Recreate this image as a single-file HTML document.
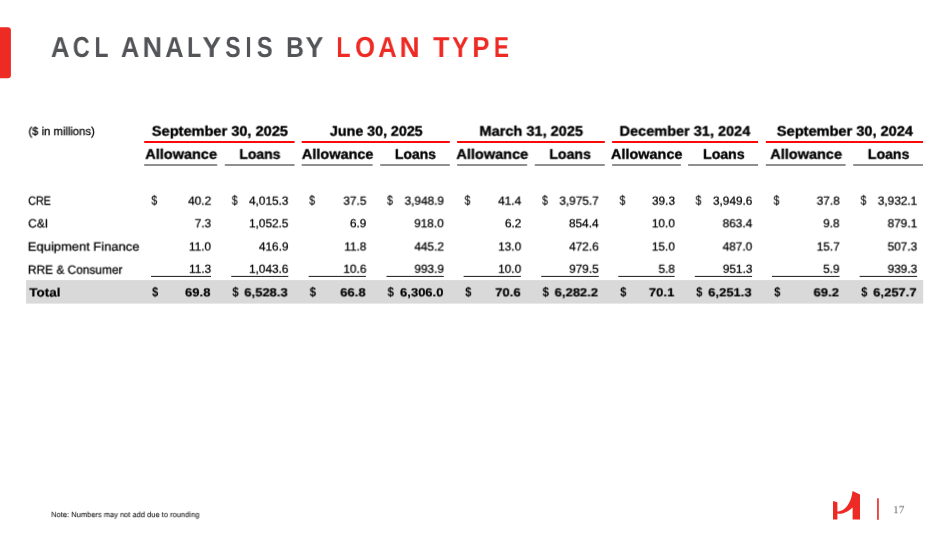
<!DOCTYPE html>
<html><head><meta charset="utf-8"><title>ACL Analysis by Loan Type</title>
<style>
html,body{margin:0;padding:0;background:#fff;overflow:hidden}
body{width:949px;height:534px;position:relative;overflow:hidden;font-family:"Liberation Sans",sans-serif}
.t{position:absolute;will-change:transform;text-rendering:geometricPrecision;white-space:pre;transform-origin:0 0;display:block}
.r{position:absolute}
</style></head><body>
<svg class="r" style="left:0;top:0" width="949" height="534" viewBox="0 0 949 534">
<rect x="-5.00" y="27.20" width="15.90" height="51.00" fill="#ee2a24" rx="3" ry="3"/>
<rect x="26.10" y="280.10" width="897.10" height="23.50" fill="#d9d9d9"/>
<rect x="144.20" y="141.00" width="150.40" height="2.00" fill="#fa0a0a"/>
<rect x="301.70" y="141.00" width="148.10" height="2.00" fill="#fa0a0a"/>
<rect x="457.10" y="141.00" width="147.70" height="2.00" fill="#fa0a0a"/>
<rect x="612.10" y="141.00" width="146.00" height="2.00" fill="#fa0a0a"/>
<rect x="765.80" y="141.00" width="157.20" height="2.00" fill="#fa0a0a"/>
<rect x="144.20" y="164.20" width="73.00" height="1.60" fill="#767676"/>
<rect x="224.80" y="164.20" width="69.80" height="1.60" fill="#767676"/>
<rect x="301.70" y="164.20" width="70.90" height="1.60" fill="#767676"/>
<rect x="380.20" y="164.20" width="69.60" height="1.60" fill="#767676"/>
<rect x="457.10" y="164.20" width="70.10" height="1.60" fill="#767676"/>
<rect x="534.80" y="164.20" width="70.00" height="1.60" fill="#767676"/>
<rect x="612.10" y="164.20" width="68.80" height="1.60" fill="#767676"/>
<rect x="688.10" y="164.20" width="70.00" height="1.60" fill="#767676"/>
<rect x="765.80" y="164.20" width="79.80" height="1.60" fill="#767676"/>
<rect x="853.20" y="164.20" width="69.80" height="1.60" fill="#767676"/>
<rect x="151.00" y="275.90" width="60.00" height="1.00" fill="#1a1a1a"/>
<rect x="231.20" y="275.90" width="57.10" height="1.00" fill="#1a1a1a"/>
<rect x="308.60" y="275.90" width="57.30" height="1.00" fill="#1a1a1a"/>
<rect x="386.50" y="275.90" width="57.30" height="1.00" fill="#1a1a1a"/>
<rect x="463.60" y="275.90" width="57.30" height="1.00" fill="#1a1a1a"/>
<rect x="541.20" y="275.90" width="57.60" height="1.00" fill="#1a1a1a"/>
<rect x="618.30" y="275.90" width="56.40" height="1.00" fill="#1a1a1a"/>
<rect x="694.80" y="275.90" width="57.30" height="1.00" fill="#1a1a1a"/>
<rect x="771.90" y="275.90" width="67.60" height="1.00" fill="#1a1a1a"/>
<rect x="859.60" y="275.90" width="57.50" height="1.00" fill="#1a1a1a"/>
<rect x="877.10" y="498.30" width="1.70" height="21.50" fill="#e8322c"/>
<path fill="#ee2a24" d="M833 500.9 L837.4 502.2 L837.4 511.5 C844.5 511.5 851 504 852.6 491 L860 494.5 L860 519.5 L852.6 519.5 L852.6 507.4 C848.5 511.5 842 515 837.4 513.4 L837.4 519.5 L833 519.5 Z"/>
</svg>
<h1 style="margin:0;font-size:0;font-weight:400"><span class="t" style="left:50px;top:30px;font-size:28.9px;line-height:35px;color:#535457;transform:translate(0.90px,0.99px) scaleX(0.8908) rotate(0.02deg);font-weight:700">A</span><span class="t" style="left:72px;top:30px;font-size:28.9px;line-height:35px;color:#535457;transform:translate(0.77px,0.99px) scaleX(0.8137) rotate(0.02deg);font-weight:700">C</span><span class="t" style="left:94px;top:30px;font-size:28.9px;line-height:35px;color:#535457;transform:translate(0.59px,0.99px) scaleX(0.7816) rotate(0.02deg);font-weight:700">L</span><span> </span><span class="t" style="left:120px;top:30px;font-size:28.9px;line-height:35px;color:#535457;transform:translate(0.90px,0.99px) scaleX(0.8808) rotate(0.02deg);font-weight:700">A</span><span class="t" style="left:142px;top:30px;font-size:28.9px;line-height:35px;color:#535457;transform:translate(0.62px,0.99px) scaleX(0.9324) rotate(0.02deg);font-weight:700">N</span><span class="t" style="left:165px;top:30px;font-size:28.9px;line-height:35px;color:#535457;transform:translate(0.30px,0.99px) scaleX(0.8757) rotate(0.02deg);font-weight:700">A</span><span class="t" style="left:187px;top:30px;font-size:28.9px;line-height:35px;color:#535457;transform:translate(0.05px,0.99px) scaleX(0.8011) rotate(0.02deg);font-weight:700">L</span><span class="t" style="left:202px;top:30px;font-size:28.9px;line-height:35px;color:#535457;transform:translate(0.48px,0.99px) scaleX(0.9600) rotate(0.02deg);font-weight:700">Y</span><span class="t" style="left:225px;top:30px;font-size:28.9px;line-height:35px;color:#535457;transform:translate(0.24px,0.99px) scaleX(0.7972) rotate(0.02deg);font-weight:700">S</span><span class="t" style="left:245px;top:30px;font-size:28.9px;line-height:35px;color:#535457;transform:translate(0.38px,0.99px) scaleX(0.7800) rotate(0.02deg);font-weight:700">I</span><span class="t" style="left:256px;top:30px;font-size:28.9px;line-height:35px;color:#535457;transform:translate(0.83px,0.99px) scaleX(0.8194) rotate(0.02deg);font-weight:700">S</span><span> </span><span class="t" style="left:286px;top:30px;font-size:28.9px;line-height:35px;color:#535457;transform:translate(0.05px,0.99px) scaleX(0.8581) rotate(0.02deg);font-weight:700">B</span><span class="t" style="left:305px;top:30px;font-size:28.9px;line-height:35px;color:#535457;transform:translate(0.58px,0.99px) scaleX(0.9236) rotate(0.02deg);font-weight:700">Y</span><span> </span><span class="t" style="left:336px;top:30px;font-size:28.9px;line-height:35px;color:#ee2a24;transform:translate(0.34px,0.99px) scaleX(0.8077) rotate(0.02deg);font-weight:700">L</span><span class="t" style="left:355px;top:30px;font-size:28.9px;line-height:35px;color:#ee2a24;transform:translate(0.10px,0.99px) scaleX(0.8858) rotate(0.02deg);font-weight:700">O</span><span class="t" style="left:378px;top:30px;font-size:28.9px;line-height:35px;color:#ee2a24;transform:translate(0.30px,0.99px) scaleX(0.8808) rotate(0.02deg);font-weight:700">A</span><span class="t" style="left:399px;top:30px;font-size:28.9px;line-height:35px;color:#ee2a24;transform:translate(0.58px,0.99px) scaleX(0.9600) rotate(0.02deg);font-weight:700">N</span><span> </span><span class="t" style="left:433px;top:30px;font-size:28.9px;line-height:35px;color:#ee2a24;transform:translate(0.20px,0.99px) scaleX(0.9199) rotate(0.02deg);font-weight:700">T</span><span class="t" style="left:452px;top:30px;font-size:28.9px;line-height:35px;color:#ee2a24;transform:translate(0.11px,0.99px) scaleX(0.8534) rotate(0.02deg);font-weight:700">Y</span><span class="t" style="left:472px;top:30px;font-size:28.9px;line-height:35px;color:#ee2a24;transform:translate(0.40px,0.99px) scaleX(0.8858) rotate(0.02deg);font-weight:700">P</span><span class="t" style="left:493px;top:30px;font-size:28.9px;line-height:35px;color:#ee2a24;transform:translate(0.93px,0.99px) scaleX(0.7800) rotate(0.02deg);font-weight:700">E</span></h1>
<span class="t" style="left:28px;top:125px;font-size:11.5px;line-height:14px;color:#000000;transform:translate(0.47px,0.10px) scaleX(0.9789) rotate(0.02deg);-webkit-text-stroke:0.25px #000000">($ in millions)</span>
<span class="t" style="left:151px;top:122px;font-size:13.8px;line-height:17px;color:#000000;transform:translate(0.87px,0.69px) scaleX(1.0560) rotate(0.02deg);font-weight:700;-webkit-text-stroke:0.35px #000000">September 30, 2025</span>
<span class="t" style="left:329px;top:122px;font-size:13.8px;line-height:17px;color:#000000;transform:translate(0.90px,0.69px) scaleX(1.0334) rotate(0.02deg);font-weight:700;-webkit-text-stroke:0.35px #000000">June 30, 2025</span>
<span class="t" style="left:479px;top:122px;font-size:13.8px;line-height:17px;color:#000000;transform:translate(0.49px,0.69px) scaleX(1.0547) rotate(0.02deg);font-weight:700;-webkit-text-stroke:0.35px #000000">March 31, 2025</span>
<span class="t" style="left:619px;top:122px;font-size:13.8px;line-height:17px;color:#000000;transform:translate(0.59px,0.69px) scaleX(1.0517) rotate(0.02deg);font-weight:700;-webkit-text-stroke:0.35px #000000">December 31, 2024</span>
<span class="t" style="left:776px;top:122px;font-size:13.8px;line-height:17px;color:#000000;transform:translate(0.87px,0.69px) scaleX(1.0563) rotate(0.02deg);font-weight:700;-webkit-text-stroke:0.35px #000000">September 30, 2024</span>
<span class="t" style="left:145px;top:145px;font-size:13.8px;line-height:17px;color:#000000;transform:translate(0.37px,0.79px) scaleX(1.0503) rotate(0.02deg);font-weight:700;-webkit-text-stroke:0.35px #000000">Allowance</span>
<span class="t" style="left:239px;top:145px;font-size:13.8px;line-height:17px;color:#000000;transform:translate(0.43px,0.79px) scaleX(1.0123) rotate(0.02deg);font-weight:700;-webkit-text-stroke:0.35px #000000">Loans</span>
<span class="t" style="left:301px;top:145px;font-size:13.8px;line-height:17px;color:#000000;transform:translate(0.87px,0.79px) scaleX(1.0489) rotate(0.02deg);font-weight:700;-webkit-text-stroke:0.35px #000000">Allowance</span>
<span class="t" style="left:394px;top:145px;font-size:13.8px;line-height:17px;color:#000000;transform:translate(0.93px,0.79px) scaleX(1.0123) rotate(0.02deg);font-weight:700;-webkit-text-stroke:0.35px #000000">Loans</span>
<span class="t" style="left:456px;top:145px;font-size:13.8px;line-height:17px;color:#000000;transform:translate(0.47px,0.79px) scaleX(1.0518) rotate(0.02deg);font-weight:700;-webkit-text-stroke:0.35px #000000">Allowance</span>
<span class="t" style="left:549px;top:145px;font-size:13.8px;line-height:17px;color:#000000;transform:translate(0.42px,0.79px) scaleX(1.0200) rotate(0.02deg);font-weight:700;-webkit-text-stroke:0.35px #000000">Loans</span>
<span class="t" style="left:610px;top:145px;font-size:13.8px;line-height:17px;color:#000000;transform:translate(0.97px,0.79px) scaleX(1.0474) rotate(0.02deg);font-weight:700;-webkit-text-stroke:0.35px #000000">Allowance</span>
<span class="t" style="left:703px;top:145px;font-size:13.8px;line-height:17px;color:#000000;transform:translate(0.12px,0.79px) scaleX(1.0225) rotate(0.02deg);font-weight:700;-webkit-text-stroke:0.35px #000000">Loans</span>
<span class="t" style="left:770px;top:145px;font-size:13.8px;line-height:17px;color:#000000;transform:translate(0.37px,0.79px) scaleX(1.0503) rotate(0.02deg);font-weight:700;-webkit-text-stroke:0.35px #000000">Allowance</span>
<span class="t" style="left:867px;top:145px;font-size:13.8px;line-height:17px;color:#000000;transform:translate(0.82px,0.79px) scaleX(1.0225) rotate(0.02deg);font-weight:700;-webkit-text-stroke:0.35px #000000">Loans</span>
<span class="t" style="left:28px;top:193px;font-size:12.0px;line-height:15px;color:#000000;transform:translate(0.30px,0.70px) scaleX(0.8900) rotate(0.02deg);-webkit-text-stroke:0.25px #000000">CRE</span>
<span class="t" style="left:28px;top:216px;font-size:12.0px;line-height:15px;color:#000000;transform:translate(0.24px,0.40px) scaleX(0.9914) rotate(0.02deg);-webkit-text-stroke:0.25px #000000">C&amp;I</span>
<span class="t" style="left:27px;top:239px;font-size:12.0px;line-height:15px;color:#000000;transform:translate(0.79px,0.60px) scaleX(1.0797) rotate(0.02deg);-webkit-text-stroke:0.25px #000000">Equipment Finance</span>
<span class="t" style="left:27px;top:262px;font-size:12.0px;line-height:15px;color:#000000;transform:translate(0.87px,0.70px) scaleX(0.9930) rotate(0.02deg);-webkit-text-stroke:0.25px #000000">RRE &amp; Consumer</span>
<span class="t" style="left:29px;top:285px;font-size:12.0px;line-height:15px;color:#000000;transform:translate(0.10px,0.50px) scaleX(1.1269) rotate(0.02deg);font-weight:700;-webkit-text-stroke:0.2px #000000">Total</span>
<span class="t" style="left:188px;top:193px;font-size:11.8px;line-height:15px;color:#000000;transform:translate(0.21px,0.70px) scaleX(1.0000) rotate(0.02deg);-webkit-text-stroke:0.25px #000000">40.2</span>
<span class="t" style="left:249px;top:193px;font-size:11.8px;line-height:15px;color:#000000;transform:translate(0.11px,0.70px) scaleX(1.0000) rotate(0.02deg);-webkit-text-stroke:0.25px #000000">4,015.3</span>
<span class="t" style="left:343px;top:193px;font-size:11.8px;line-height:15px;color:#000000;transform:translate(0.41px,0.70px) scaleX(1.0000) rotate(0.02deg);-webkit-text-stroke:0.25px #000000">37.5</span>
<span class="t" style="left:404px;top:193px;font-size:11.8px;line-height:15px;color:#000000;transform:translate(0.61px,0.70px) scaleX(1.0000) rotate(0.02deg);-webkit-text-stroke:0.25px #000000">3,948.9</span>
<span class="t" style="left:498px;top:193px;font-size:11.8px;line-height:15px;color:#000000;transform:translate(0.23px,0.70px) scaleX(1.0000) rotate(0.02deg);-webkit-text-stroke:0.25px #000000">41.4</span>
<span class="t" style="left:559px;top:193px;font-size:11.8px;line-height:15px;color:#000000;transform:translate(0.41px,0.70px) scaleX(1.0000) rotate(0.02deg);-webkit-text-stroke:0.25px #000000">3,975.7</span>
<span class="t" style="left:652px;top:193px;font-size:11.8px;line-height:15px;color:#000000;transform:translate(0.01px,0.70px) scaleX(1.0000) rotate(0.02deg);-webkit-text-stroke:0.25px #000000">39.3</span>
<span class="t" style="left:713px;top:193px;font-size:11.8px;line-height:15px;color:#000000;transform:translate(0.01px,0.70px) scaleX(1.0000) rotate(0.02deg);-webkit-text-stroke:0.25px #000000">3,949.6</span>
<span class="t" style="left:816px;top:193px;font-size:11.8px;line-height:15px;color:#000000;transform:translate(0.71px,0.70px) scaleX(1.0000) rotate(0.02deg);-webkit-text-stroke:0.25px #000000">37.8</span>
<span class="t" style="left:877px;top:193px;font-size:11.8px;line-height:15px;color:#000000;transform:translate(0.81px,0.70px) scaleX(1.0000) rotate(0.02deg);-webkit-text-stroke:0.25px #000000">3,932.1</span>
<span class="t" style="left:194px;top:216px;font-size:11.8px;line-height:15px;color:#000000;transform:translate(0.77px,0.30px) scaleX(1.0000) rotate(0.02deg);-webkit-text-stroke:0.25px #000000">7.3</span>
<span class="t" style="left:249px;top:216px;font-size:11.8px;line-height:15px;color:#000000;transform:translate(0.11px,0.30px) scaleX(1.0000) rotate(0.02deg);-webkit-text-stroke:0.25px #000000">1,052.5</span>
<span class="t" style="left:349px;top:216px;font-size:11.8px;line-height:15px;color:#000000;transform:translate(0.97px,0.30px) scaleX(1.0000) rotate(0.02deg);-webkit-text-stroke:0.25px #000000">6.9</span>
<span class="t" style="left:414px;top:216px;font-size:11.8px;line-height:15px;color:#000000;transform:translate(0.27px,0.30px) scaleX(1.0000) rotate(0.02deg);-webkit-text-stroke:0.25px #000000">918.0</span>
<span class="t" style="left:504px;top:216px;font-size:11.8px;line-height:15px;color:#000000;transform:translate(0.97px,0.30px) scaleX(1.0000) rotate(0.02deg);-webkit-text-stroke:0.25px #000000">6.2</span>
<span class="t" style="left:569px;top:216px;font-size:11.8px;line-height:15px;color:#000000;transform:translate(0.07px,0.30px) scaleX(1.0000) rotate(0.02deg);-webkit-text-stroke:0.25px #000000">854.4</span>
<span class="t" style="left:651px;top:216px;font-size:11.8px;line-height:15px;color:#000000;transform:translate(0.83px,0.30px) scaleX(1.0000) rotate(0.02deg);-webkit-text-stroke:0.25px #000000">10.0</span>
<span class="t" style="left:722px;top:216px;font-size:11.8px;line-height:15px;color:#000000;transform:translate(0.67px,0.30px) scaleX(1.0000) rotate(0.02deg);-webkit-text-stroke:0.25px #000000">863.4</span>
<span class="t" style="left:823px;top:216px;font-size:11.8px;line-height:15px;color:#000000;transform:translate(0.27px,0.30px) scaleX(1.0000) rotate(0.02deg);-webkit-text-stroke:0.25px #000000">9.8</span>
<span class="t" style="left:887px;top:216px;font-size:11.8px;line-height:15px;color:#000000;transform:translate(0.65px,0.30px) scaleX(1.0000) rotate(0.02deg);-webkit-text-stroke:0.25px #000000">879.1</span>
<span class="t" style="left:188px;top:239px;font-size:11.8px;line-height:15px;color:#000000;transform:translate(0.90px,0.50px) scaleX(1.0000) rotate(0.02deg);-webkit-text-stroke:0.25px #000000">11.0</span>
<span class="t" style="left:258px;top:239px;font-size:11.8px;line-height:15px;color:#000000;transform:translate(0.95px,0.50px) scaleX(1.0000) rotate(0.02deg);-webkit-text-stroke:0.25px #000000">416.9</span>
<span class="t" style="left:344px;top:239px;font-size:11.8px;line-height:15px;color:#000000;transform:translate(0.29px,0.50px) scaleX(1.0000) rotate(0.02deg);-webkit-text-stroke:0.25px #000000">11.8</span>
<span class="t" style="left:414px;top:239px;font-size:11.8px;line-height:15px;color:#000000;transform:translate(0.45px,0.50px) scaleX(1.0000) rotate(0.02deg);-webkit-text-stroke:0.25px #000000">445.2</span>
<span class="t" style="left:498px;top:239px;font-size:11.8px;line-height:15px;color:#000000;transform:translate(0.23px,0.50px) scaleX(1.0000) rotate(0.02deg);-webkit-text-stroke:0.25px #000000">13.0</span>
<span class="t" style="left:569px;top:239px;font-size:11.8px;line-height:15px;color:#000000;transform:translate(0.25px,0.50px) scaleX(1.0000) rotate(0.02deg);-webkit-text-stroke:0.25px #000000">472.6</span>
<span class="t" style="left:651px;top:239px;font-size:11.8px;line-height:15px;color:#000000;transform:translate(0.83px,0.50px) scaleX(1.0000) rotate(0.02deg);-webkit-text-stroke:0.25px #000000">15.0</span>
<span class="t" style="left:722px;top:239px;font-size:11.8px;line-height:15px;color:#000000;transform:translate(0.67px,0.50px) scaleX(1.0000) rotate(0.02deg);-webkit-text-stroke:0.25px #000000">487.0</span>
<span class="t" style="left:816px;top:239px;font-size:11.8px;line-height:15px;color:#000000;transform:translate(0.71px,0.50px) scaleX(1.0000) rotate(0.02deg);-webkit-text-stroke:0.25px #000000">15.7</span>
<span class="t" style="left:887px;top:239px;font-size:11.8px;line-height:15px;color:#000000;transform:translate(0.65px,0.50px) scaleX(1.0000) rotate(0.02deg);-webkit-text-stroke:0.25px #000000">507.3</span>
<span class="t" style="left:189px;top:261px;font-size:11.8px;line-height:15px;color:#000000;transform:translate(0.09px,0.80px) scaleX(1.0000) rotate(0.02deg);-webkit-text-stroke:0.25px #000000">11.3</span>
<span class="t" style="left:249px;top:261px;font-size:11.8px;line-height:15px;color:#000000;transform:translate(0.11px,0.80px) scaleX(1.0000) rotate(0.02deg);-webkit-text-stroke:0.25px #000000">1,043.6</span>
<span class="t" style="left:343px;top:261px;font-size:11.8px;line-height:15px;color:#000000;transform:translate(0.41px,0.80px) scaleX(1.0000) rotate(0.02deg);-webkit-text-stroke:0.25px #000000">10.6</span>
<span class="t" style="left:414px;top:261px;font-size:11.8px;line-height:15px;color:#000000;transform:translate(0.45px,0.80px) scaleX(1.0000) rotate(0.02deg);-webkit-text-stroke:0.25px #000000">993.9</span>
<span class="t" style="left:498px;top:261px;font-size:11.8px;line-height:15px;color:#000000;transform:translate(0.23px,0.80px) scaleX(1.0000) rotate(0.02deg);-webkit-text-stroke:0.25px #000000">10.0</span>
<span class="t" style="left:569px;top:261px;font-size:11.8px;line-height:15px;color:#000000;transform:translate(0.25px,0.80px) scaleX(1.0000) rotate(0.02deg);-webkit-text-stroke:0.25px #000000">979.5</span>
<span class="t" style="left:658px;top:261px;font-size:11.8px;line-height:15px;color:#000000;transform:translate(0.57px,0.80px) scaleX(1.0000) rotate(0.02deg);-webkit-text-stroke:0.25px #000000">5.8</span>
<span class="t" style="left:722px;top:261px;font-size:11.8px;line-height:15px;color:#000000;transform:translate(0.85px,0.80px) scaleX(1.0000) rotate(0.02deg);-webkit-text-stroke:0.25px #000000">951.3</span>
<span class="t" style="left:823px;top:261px;font-size:11.8px;line-height:15px;color:#000000;transform:translate(0.27px,0.80px) scaleX(1.0000) rotate(0.02deg);-webkit-text-stroke:0.25px #000000">5.9</span>
<span class="t" style="left:887px;top:261px;font-size:11.8px;line-height:15px;color:#000000;transform:translate(0.65px,0.80px) scaleX(1.0000) rotate(0.02deg);-webkit-text-stroke:0.25px #000000">939.3</span>
<span class="t" style="left:151px;top:192px;font-size:13.2px;line-height:16px;color:#0a0a0a;transform:translate(0.30px,0.70px) scaleX(0.8173) rotate(0.02deg);-webkit-text-stroke:0.1px #0a0a0a">$</span>
<span class="t" style="left:152px;top:284px;font-size:13.2px;line-height:16px;color:#000000;transform:translate(0.00px,0.40px) scaleX(0.8589) rotate(0.02deg);font-weight:700">$</span>
<span class="t" style="left:185px;top:285px;font-size:11.8px;line-height:15px;color:#000000;transform:translate(0.16px,0.40px) scaleX(1.1000) rotate(0.02deg);font-weight:700;-webkit-text-stroke:0.2px #000000">69.8</span>
<span class="t" style="left:231px;top:192px;font-size:13.2px;line-height:16px;color:#0a0a0a;transform:translate(0.70px,0.70px) scaleX(0.8173) rotate(0.02deg);-webkit-text-stroke:0.1px #0a0a0a">$</span>
<span class="t" style="left:232px;top:284px;font-size:13.2px;line-height:16px;color:#000000;transform:translate(0.40px,0.40px) scaleX(0.8589) rotate(0.02deg);font-weight:700">$</span>
<span class="t" style="left:244px;top:285px;font-size:11.8px;line-height:15px;color:#000000;transform:translate(0.42px,0.40px) scaleX(1.1000) rotate(0.02deg);font-weight:700;-webkit-text-stroke:0.2px #000000">6,528.3</span>
<span class="t" style="left:309px;top:192px;font-size:13.2px;line-height:16px;color:#0a0a0a;transform:translate(0.00px,0.70px) scaleX(0.8173) rotate(0.02deg);-webkit-text-stroke:0.1px #0a0a0a">$</span>
<span class="t" style="left:309px;top:284px;font-size:13.2px;line-height:16px;color:#000000;transform:translate(0.70px,0.40px) scaleX(0.8589) rotate(0.02deg);font-weight:700">$</span>
<span class="t" style="left:340px;top:285px;font-size:11.8px;line-height:15px;color:#000000;transform:translate(0.36px,0.40px) scaleX(1.1000) rotate(0.02deg);font-weight:700;-webkit-text-stroke:0.2px #000000">66.8</span>
<span class="t" style="left:386px;top:192px;font-size:13.2px;line-height:16px;color:#0a0a0a;transform:translate(0.90px,0.70px) scaleX(0.8173) rotate(0.02deg);-webkit-text-stroke:0.1px #0a0a0a">$</span>
<span class="t" style="left:387px;top:284px;font-size:13.2px;line-height:16px;color:#000000;transform:translate(0.60px,0.40px) scaleX(0.8589) rotate(0.02deg);font-weight:700">$</span>
<span class="t" style="left:400px;top:285px;font-size:11.8px;line-height:15px;color:#000000;transform:translate(0.12px,0.40px) scaleX(1.1000) rotate(0.02deg);font-weight:700;-webkit-text-stroke:0.2px #000000">6,306.0</span>
<span class="t" style="left:464px;top:192px;font-size:13.2px;line-height:16px;color:#0a0a0a;transform:translate(0.50px,0.70px) scaleX(0.8173) rotate(0.02deg);-webkit-text-stroke:0.1px #0a0a0a">$</span>
<span class="t" style="left:465px;top:284px;font-size:13.2px;line-height:16px;color:#000000;transform:translate(0.20px,0.40px) scaleX(0.8589) rotate(0.02deg);font-weight:700">$</span>
<span class="t" style="left:495px;top:285px;font-size:11.8px;line-height:15px;color:#000000;transform:translate(0.36px,0.40px) scaleX(1.1000) rotate(0.02deg);font-weight:700;-webkit-text-stroke:0.2px #000000">70.6</span>
<span class="t" style="left:541px;top:192px;font-size:13.2px;line-height:16px;color:#0a0a0a;transform:translate(0.90px,0.70px) scaleX(0.8173) rotate(0.02deg);-webkit-text-stroke:0.1px #0a0a0a">$</span>
<span class="t" style="left:542px;top:284px;font-size:13.2px;line-height:16px;color:#000000;transform:translate(0.60px,0.40px) scaleX(0.8589) rotate(0.02deg);font-weight:700">$</span>
<span class="t" style="left:554px;top:285px;font-size:11.8px;line-height:15px;color:#000000;transform:translate(0.72px,0.40px) scaleX(1.1000) rotate(0.02deg);font-weight:700;-webkit-text-stroke:0.2px #000000">6,282.2</span>
<span class="t" style="left:619px;top:192px;font-size:13.2px;line-height:16px;color:#0a0a0a;transform:translate(0.50px,0.70px) scaleX(0.8173) rotate(0.02deg);-webkit-text-stroke:0.1px #0a0a0a">$</span>
<span class="t" style="left:620px;top:284px;font-size:13.2px;line-height:16px;color:#000000;transform:translate(0.20px,0.40px) scaleX(0.8589) rotate(0.02deg);font-weight:700">$</span>
<span class="t" style="left:648px;top:285px;font-size:11.8px;line-height:15px;color:#000000;transform:translate(0.96px,0.40px) scaleX(1.1000) rotate(0.02deg);font-weight:700;-webkit-text-stroke:0.2px #000000">70.1</span>
<span class="t" style="left:695px;top:192px;font-size:13.2px;line-height:16px;color:#0a0a0a;transform:translate(0.50px,0.70px) scaleX(0.8173) rotate(0.02deg);-webkit-text-stroke:0.1px #0a0a0a">$</span>
<span class="t" style="left:696px;top:284px;font-size:13.2px;line-height:16px;color:#000000;transform:translate(0.20px,0.40px) scaleX(0.8589) rotate(0.02deg);font-weight:700">$</span>
<span class="t" style="left:708px;top:285px;font-size:11.8px;line-height:15px;color:#000000;transform:translate(0.32px,0.40px) scaleX(1.1000) rotate(0.02deg);font-weight:700;-webkit-text-stroke:0.2px #000000">6,251.3</span>
<span class="t" style="left:773px;top:192px;font-size:13.2px;line-height:16px;color:#0a0a0a;transform:translate(0.50px,0.70px) scaleX(0.8173) rotate(0.02deg);-webkit-text-stroke:0.1px #0a0a0a">$</span>
<span class="t" style="left:774px;top:284px;font-size:13.2px;line-height:16px;color:#000000;transform:translate(0.20px,0.40px) scaleX(0.8589) rotate(0.02deg);font-weight:700">$</span>
<span class="t" style="left:813px;top:285px;font-size:11.8px;line-height:15px;color:#000000;transform:translate(0.66px,0.40px) scaleX(1.1000) rotate(0.02deg);font-weight:700;-webkit-text-stroke:0.2px #000000">69.2</span>
<span class="t" style="left:860px;top:192px;font-size:13.2px;line-height:16px;color:#0a0a0a;transform:translate(0.50px,0.70px) scaleX(0.8173) rotate(0.02deg);-webkit-text-stroke:0.1px #0a0a0a">$</span>
<span class="t" style="left:861px;top:284px;font-size:13.2px;line-height:16px;color:#000000;transform:translate(0.20px,0.40px) scaleX(0.8589) rotate(0.02deg);font-weight:700">$</span>
<span class="t" style="left:873px;top:285px;font-size:11.8px;line-height:15px;color:#000000;transform:translate(0.32px,0.40px) scaleX(1.1000) rotate(0.02deg);font-weight:700;-webkit-text-stroke:0.2px #000000">6,257.7</span>
<span class="t" style="left:51px;top:510px;font-size:7.6px;line-height:10px;color:#222222;transform:translate(0.21px,0.10px) scaleX(0.9882) rotate(0.02deg);-webkit-text-stroke:0.1px #222222">Note: Numbers may not add due to rounding</span>
<span class="t" style="left:893px;top:503px;font-size:11px;line-height:14px;color:#6d6e71;transform:translate(0.00px,0.29px) scaleX(1.0433) rotate(0.02deg);font-family:'Liberation Serif',serif">17</span>
</body></html>
